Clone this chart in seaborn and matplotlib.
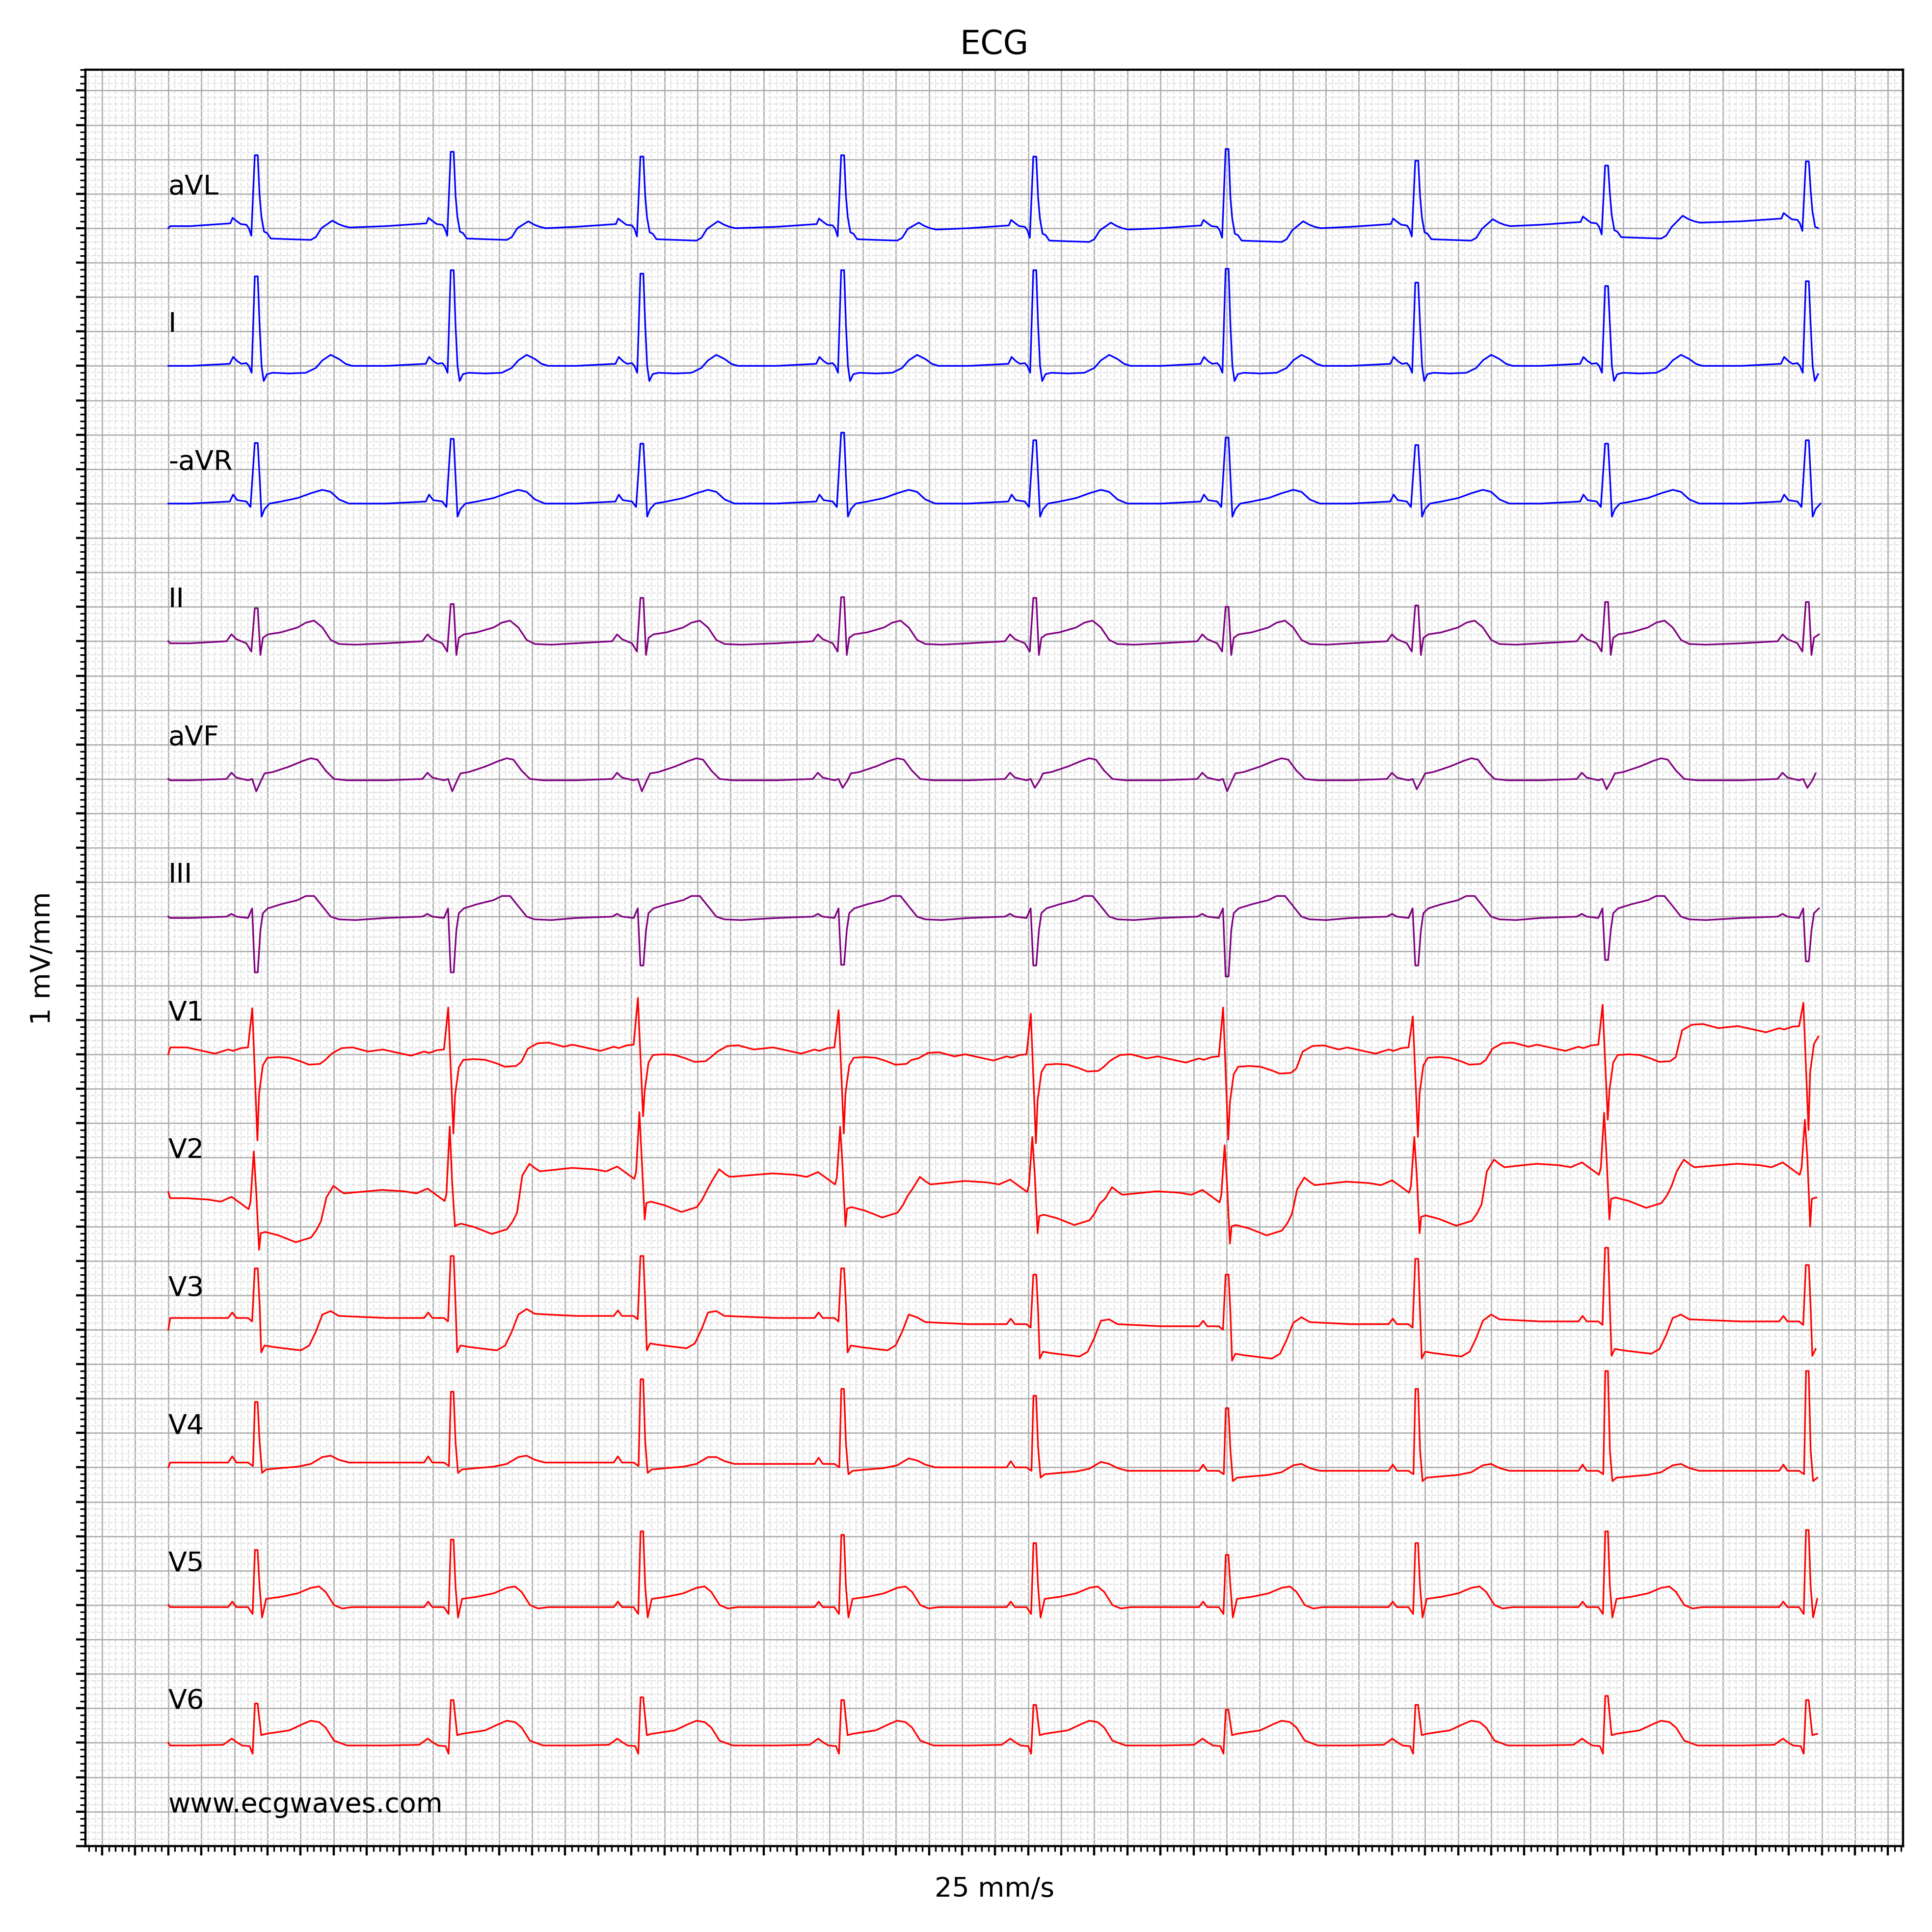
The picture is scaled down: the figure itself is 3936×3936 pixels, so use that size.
import numpy as np
import matplotlib
matplotlib.use('Agg')
import matplotlib.pyplot as plt
import seaborn as sns
from matplotlib.ticker import MultipleLocator, NullFormatter

# lead order (Cabrera), top to bottom
lead_names = ['aVL', 'I', '-aVR', 'II', 'aVF', 'III', 'V1', 'V2', 'V3', 'V4', 'V5', 'V6']
lead_colors = ['blue', 'blue', 'blue', 'purple', 'purple', 'purple',
               'red', 'red', 'red', 'red', 'red', 'red']

# R-peak times (s), same for all leads
beat_times = [0.532, 1.717, 2.864, 4.078, 5.240, 6.403, 7.550, 8.698, 9.912]

# each lead: beat shape (offset s, mV above local level), spike knots read per beat,
# level of the trace between beats (10 values) and the offset where the level switches

# aVL
avl_t = [-0.40, -0.157, -0.143, -0.117, -0.094, -0.06, -0.045, -0.03, -0.009, 0.009, 0.02, 0.031,
         0.047, 0.065, 0.088, 0.2, 0.33, 0.36, 0.394, 0.46, 0.497, 0.53, 0.565]
avl_v = [0.0, 0.04, 0.12, 0.07, 0.03, 0.02, -0.03, -0.14, 1.06, 1.06, 0.45, 0.14,
         -0.08, -0.1, -0.18, -0.19, -0.2, -0.16, -0.03, 0.08, 0.03, 0.0, -0.02]
avl_r = [1.06, 1.11, 1.04, 1.06, 1.04, 1.15, 0.98, 0.91, 0.97]
avl_lvl = [0.03, 0.03, 0.02, 0.02, 0.0, 0.0, 0.02, 0.05, 0.1, 0.05]

# I
i_t = [-0.40, -0.16, -0.14, -0.115, -0.09, -0.06, -0.045, -0.028, -0.009, 0.009, 0.02, 0.032,
       0.045, 0.065, 0.1, 0.2, 0.3, 0.36, 0.40, 0.45, 0.5, 0.54, 0.58]
i_v = [0.0, 0.03, 0.13, 0.07, 0.03, 0.04, 0.0, -0.1, 1.3, 1.3, 0.6, 0.0,
       -0.22, -0.12, -0.1, -0.11, -0.1, -0.03, 0.08, 0.16, 0.1, 0.03, 0.0]
i_r = [1.30, 1.39, 1.34, 1.39, 1.39, 1.41, 1.21, 1.16, 1.23]
i_lvl = [0.0, 0.0, 0.0, 0.0, 0.0, 0.0, 0.0, 0.0, 0.0, 0.0]

# -aVR
avr_t = [-0.40, -0.16, -0.14, -0.115, -0.06, -0.035, -0.009, 0.009, 0.02, 0.032, 0.05, 0.08,
         0.15, 0.25, 0.33, 0.40, 0.45, 0.5, 0.56]
avr_v = [0.0, 0.03, 0.13, 0.05, 0.03, -0.05, 0.88, 0.88, 0.4, -0.19, -0.08, 0.0,
         0.03, 0.08, 0.15, 0.2, 0.17, 0.06, 0.0]
avr_r = [0.88, 0.94, 0.87, 1.03, 0.92, 0.96, 0.85, 0.87, 0.92]
avr_lvl = [0.0, 0.0, 0.0, 0.0, 0.0, 0.0, 0.0, 0.0, 0.0, 0.0]

# II
ii_t = [-0.40, -0.18, -0.15, -0.12, -0.06, -0.03, -0.009, 0.009, 0.025, 0.04, 0.07, 0.15,
        0.25, 0.3, 0.35, 0.40, 0.45, 0.5, 0.6]
ii_v = [-0.03, 0.0, 0.1, 0.03, -0.03, -0.15, 0.48, 0.48, -0.2, 0.05, 0.1, 0.13,
        0.2, 0.27, 0.3, 0.2, 0.02, -0.04, -0.05]
ii_r = [0.48, 0.54, 0.63, 0.64, 0.63, 0.50, 0.52, 0.57, 0.57]
ii_lvl = [0.0, 0.0, 0.0, 0.0, 0.0, 0.0, 0.0, 0.0, 0.0, 0.0]

# aVF
avf_t = [-0.40, -0.18, -0.15, -0.12, -0.05, -0.025, 0.0, 0.03, 0.05, 0.1, 0.2, 0.28,
         0.33, 0.37, 0.42, 0.47, 0.55]
avf_v = [-0.02, 0.0, 0.09, 0.02, -0.02, 0.0, -0.18, -0.02, 0.08, 0.1, 0.18, 0.26,
         0.3, 0.28, 0.12, 0.0, -0.02]
avf_q = [-0.18, -0.18, -0.18, -0.13, -0.13, -0.18, -0.15, -0.15, -0.13]
avf_lvl = [0.0, 0.0, 0.0, 0.0, 0.0, 0.0, 0.0, 0.0, 0.0, 0.0]

# III
iii_t = [-0.40, -0.18, -0.15, -0.12, -0.05, -0.025, -0.009, 0.009, 0.025, 0.04, 0.07, 0.15,
         0.25, 0.3, 0.35, 0.40, 0.45, 0.5, 0.6]
iii_v = [-0.02, 0.0, 0.04, 0.0, -0.02, 0.12, -0.81, -0.81, -0.2, 0.05, 0.12, 0.18,
         0.24, 0.3, 0.3, 0.15, 0.0, -0.04, -0.05]
iii_s = [-0.81, -0.81, -0.71, -0.70, -0.71, -0.87, -0.71, -0.63, -0.65]
iii_lvl = [0.0, 0.0, 0.0, 0.0, 0.0, 0.0, 0.0, 0.0, 0.0, 0.0]

# V1
v1_t = [-0.42, -0.25, -0.17, -0.14, -0.092, -0.05, -0.024, 0.007, 0.017, 0.04, 0.067, 0.134,
        0.2, 0.266, 0.318, 0.385, 0.418, 0.457, 0.516, 0.583, 0.676]
v1_v = [0.0, -0.09, -0.03, -0.05, -0.01, 0.0, 0.67, -1.25, -0.67, -0.26, -0.15, -0.14,
        -0.15, -0.2, -0.25, -0.24, -0.18, -0.06, 0.02, 0.03, -0.03]
v1_r = [0.67, 0.68, 0.82, 0.64, 0.59, 0.68, 0.55, 0.72, 0.75]
v1_s = [-1.25, -1.15, -0.9, -1.15, -1.29, -1.24, -1.2, -0.95, -1.1]
v1_lvl = [0.1, 0.07, 0.14, 0.1, 0.0, -0.03, 0.1, 0.14, 0.41, 0.3]

# V2
v2_t = [-0.424, -0.29, -0.216, -0.149, -0.08, -0.046, -0.035, -0.015, 0.0, 0.017, 0.027, 0.054,
        0.134, 0.239, 0.332, 0.365, 0.392, 0.424, 0.467, 0.504, 0.531]
v2_v = [0.01, -0.01, -0.04, 0.03, -0.09, -0.15, -0.05, 0.59, 0.1, -0.84, -0.5, -0.48,
        -0.53, -0.63, -0.56, -0.45, -0.32, -0.1, 0.07, 0.0, -0.04]
v2_r = [0.59, 0.95, 1.16, 0.95, 0.8, 0.68, 0.8, 1.15, 1.05]
v2_s = [-0.84, -0.5, -0.4, -0.5, -0.6, -0.75, -0.6, -0.4, -0.5]
v2_lvl = [-0.1, 0.02, 0.34, 0.26, 0.15, 0.0, 0.14, 0.4, 0.4, 0.4]

# V3
v3_t = [-0.40, -0.17, -0.145, -0.12, -0.05, -0.025, -0.009, 0.009, 0.02, 0.03, 0.05, 0.1,
        0.2, 0.27, 0.32, 0.36, 0.40, 0.45, 0.5]
v3_v = [0.0, 0.0, 0.08, 0.0, 0.0, -0.05, 0.89, 0.89, 0.2, -0.5, -0.4, -0.42,
        -0.45, -0.47, -0.4, -0.2, 0.05, 0.1, 0.03]
v3_r = [0.89, 1.07, 1.07, 0.89, 0.8, 0.8, 1.03, 1.19, 0.94]
v3_lvl = [0.17, 0.17, 0.2, 0.17, 0.08, 0.05, 0.08, 0.12, 0.12, 0.12]

# V4
v4_t = [-0.40, -0.17, -0.145, -0.12, -0.05, -0.02, -0.008, 0.008, 0.02, 0.035, 0.06, 0.15,
        0.25, 0.33, 0.40, 0.45, 0.5, 0.56]
v4_v = [0.0, 0.0, 0.09, 0.0, 0.0, -0.05, 0.95, 0.95, 0.3, -0.15, -0.1, -0.08,
        -0.06, -0.02, 0.08, 0.1, 0.04, 0.0]
v4_r = [0.95, 1.1, 1.28, 1.14, 1.04, 0.86, 1.14, 1.4, 1.4]
v4_lvl = [0.07, 0.07, 0.07, 0.05, 0.0, -0.05, -0.05, -0.05, -0.05, -0.05]

# V5
v5_t = [-0.40, -0.17, -0.145, -0.12, -0.05, -0.022, -0.008, 0.008, 0.02, 0.035, 0.06, 0.15,
        0.25, 0.33, 0.38, 0.42, 0.47, 0.52, 0.58]
v5_v = [0.0, 0.0, 0.08, 0.0, 0.0, -0.1, 0.8, 0.8, 0.3, -0.15, 0.12, 0.15,
        0.2, 0.28, 0.3, 0.22, 0.03, -0.02, 0.0]
v5_r = [0.8, 0.95, 1.07, 1.02, 0.9, 0.73, 0.9, 1.07, 1.09]
v5_lvl = [-0.03, -0.03, -0.03, -0.03, -0.03, -0.03, -0.03, -0.03, -0.03, -0.03]

# V6
v6_t = [-0.40, -0.2, -0.148, -0.12, -0.086, -0.04, -0.022, -0.008, 0.008, 0.03, 0.06, 0.2,
        0.28, 0.33, 0.38, 0.42, 0.47, 0.55]
v6_v = [0.0, 0.01, 0.1, 0.05, 0.0, -0.01, -0.12, 0.57, 0.57, 0.15, 0.17, 0.22,
        0.31, 0.36, 0.34, 0.26, 0.07, 0.0]
v6_r = [0.57, 0.62, 0.66, 0.62, 0.55, 0.48, 0.55, 0.68, 0.62]
v6_lvl = [-0.04, -0.04, -0.04, -0.04, -0.04, -0.04, -0.04, -0.04, -0.04, -0.04]

leads = [
    (avl_t, avl_v, [8, 9], [avl_r, avl_r], avl_lvl, 0.45),
    (i_t, i_v, [8, 9], [i_r, i_r], i_lvl, 0.45),
    (avr_t, avr_v, [6, 7], [avr_r, avr_r], avr_lvl, 0.45),
    (ii_t, ii_v, [6, 7], [ii_r, ii_r], ii_lvl, 0.45),
    (avf_t, avf_v, [6], [avf_q], avf_lvl, 0.45),
    (iii_t, iii_v, [6, 7], [iii_s, iii_s], iii_lvl, 0.45),
    (v1_t, v1_v, [6, 7], [v1_r, v1_s], v1_lvl, 0.45),
    (v2_t, v2_v, [7, 9], [v2_r, v2_s], v2_lvl, 0.4),
    (v3_t, v3_v, [6, 7], [v3_r, v3_r], v3_lvl, 0.45),
    (v4_t, v4_v, [6, 7], [v4_r, v4_r], v4_lvl, 0.45),
    (v5_t, v5_v, [6, 7], [v5_r, v5_r], v5_lvl, 0.45),
    (v6_t, v6_v, [7, 8], [v6_r, v6_r], v6_lvl, 0.45),
]

row_step = 2.0   # mV between lead baselines
t_end = 9.998


def build_trace(shape_t, shape_v, peak_idx, peaks, levels, split):
    ts = [0.0, 0.012]
    vs = [0.0, levels[0] + shape_v[0]]
    for k, bt in enumerate(beat_times):
        for i, (dt, dv) in enumerate(zip(shape_t, shape_v)):
            t = bt + dt
            if t <= ts[-1] or t > t_end:
                continue
            if i in peak_idx:
                v = peaks[peak_idx.index(i)][k]
            else:
                v = dv + (levels[k] if dt < split else levels[k + 1])
            ts.append(t)
            vs.append(v)
    return np.array(ts), np.array(vs)


fig = plt.figure(figsize=(9.8425, 9.8425), dpi=400)
ax = fig.add_subplot(111)
fig.subplots_adjust(left=0.0443, right=0.9847, bottom=0.0445, top=0.9636)

n = len(lead_names)
for k, (name, color, spec) in enumerate(zip(lead_names, lead_colors, leads)):
    offset = (n - 1 - k) * row_step
    t, v = build_trace(*spec)
    sns.lineplot(x=t, y=v + offset, ax=ax, color=color, linewidth=0.6,
                 estimator=None, sort=False)
    ax.text(0, offset + 0.5, name, fontsize=10)

ax.text(0, -1.0, 'www.ecgwaves.com', fontsize=10)

ax.set_xlim(-0.5, 10.49)
ax.set_ylim(-1.5, 24.3)
ax.xaxis.set_major_locator(MultipleLocator(0.2))
ax.xaxis.set_minor_locator(MultipleLocator(0.04))
ax.yaxis.set_major_locator(MultipleLocator(0.5))
ax.yaxis.set_minor_locator(MultipleLocator(0.1))
ax.xaxis.set_major_formatter(NullFormatter())
ax.yaxis.set_major_formatter(NullFormatter())
ax.grid(which='major', color='#b0b0b0', linewidth=0.5)
ax.grid(which='minor', color='#e3e3e3', linewidth=0.4, linestyle='--')

ax.set_title('ECG')
ax.set_xlabel('25 mm/s')
ax.set_ylabel('1 mV/mm')

fig.savefig('out.png', dpi=400)
